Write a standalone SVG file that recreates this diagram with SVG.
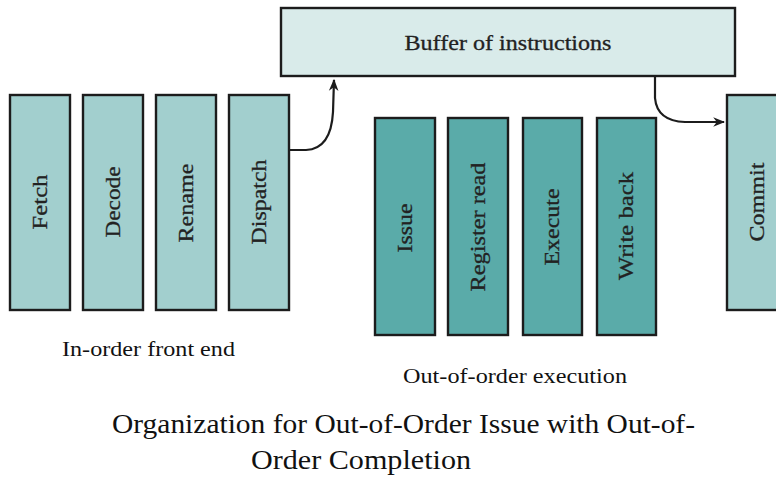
<svg xmlns="http://www.w3.org/2000/svg" width="776" height="479" viewBox="0 0 776 479" font-family="Liberation Serif, serif">
<style>
.fe{fill:#a2cfce;stroke:#1c1c1c;stroke-width:2.4}
.ex{fill:#5aaba9;stroke:#1c1c1c;stroke-width:2.4}
.buf{fill:#d9ebea;stroke:#1c1c1c;stroke-width:2.4}
.lbl{font-size:21px;fill:#222;text-anchor:middle;stroke:#222;stroke-width:0.3}
.cap{font-size:20px;fill:#111}
.title{font-size:27px;fill:#111}
.con{fill:none;stroke:#1c1c1c;stroke-width:2.2}
</style>
<defs>
<marker id="ah" viewBox="0 0 10 10" refX="9" refY="5" markerWidth="12" markerHeight="12" orient="auto" markerUnits="userSpaceOnUse">
<path d="M0,1 L10,5 L0,9 L3,5 z" fill="#1c1c1c"/>
</marker>
</defs>
<rect width="776" height="479" fill="#fff"/>

<g id="buffer">
<rect class="buf" x="281" y="8" width="454" height="68"/>
<text class="lbl" x="508" y="50" textLength="207" lengthAdjust="spacingAndGlyphs">Buffer of instructions</text>
</g>

<g id="fetch">
<rect class="fe" x="10" y="95" width="60" height="215"/>
<text class="lbl" transform="translate(40,202) rotate(-90)" x="0" y="7" textLength="55" lengthAdjust="spacingAndGlyphs">Fetch</text>
</g>
<g id="decode">
<rect class="fe" x="83" y="95" width="60" height="215"/>
<text class="lbl" transform="translate(113,202) rotate(-90)" x="0" y="7" textLength="71" lengthAdjust="spacingAndGlyphs">Decode</text>
</g>
<g id="rename">
<rect class="fe" x="156" y="95" width="60" height="215"/>
<text class="lbl" transform="translate(186,203) rotate(-90)" x="0" y="7" textLength="79" lengthAdjust="spacingAndGlyphs">Rename</text>
</g>
<g id="dispatch">
<rect class="fe" x="229" y="95" width="60" height="215"/>
<text class="lbl" transform="translate(259,202) rotate(-90)" x="0" y="7" textLength="85" lengthAdjust="spacingAndGlyphs">Dispatch</text>
</g>

<g id="issue">
<rect class="ex" x="375" y="118" width="60" height="217"/>
<text class="lbl" transform="translate(405,228) rotate(-90)" x="0" y="7" textLength="49" lengthAdjust="spacingAndGlyphs">Issue</text>
</g>
<g id="register-read">
<rect class="ex" x="448" y="118" width="60" height="217"/>
<text class="lbl" transform="translate(478,227) rotate(-90)" x="0" y="7" textLength="129" lengthAdjust="spacingAndGlyphs">Register read</text>
</g>
<g id="execute">
<rect class="ex" x="523" y="118" width="59" height="217"/>
<text class="lbl" transform="translate(552,227) rotate(-90)" x="0" y="7" textLength="77" lengthAdjust="spacingAndGlyphs">Execute</text>
</g>
<g id="write-back">
<rect class="ex" x="597" y="118" width="59" height="217"/>
<text class="lbl" transform="translate(626,226) rotate(-90)" x="0" y="7" textLength="108" lengthAdjust="spacingAndGlyphs">Write back</text>
</g>

<g id="commit">
<rect class="fe" x="727" y="95" width="60" height="215"/>
<text class="lbl" transform="translate(757,202) rotate(-90)" x="0" y="7" textLength="79" lengthAdjust="spacingAndGlyphs">Commit</text>
</g>

<g id="connectors">
<path class="con" d="M289,150 L306,150 Q331,149 333,112 L334,80" marker-end="url(#ah)"/>
<path class="con" d="M655,76 L655,98 Q657,121 685,122 L724,122" marker-end="url(#ah)"/>
</g>

<g id="labels">
<text class="cap" x="62" y="356" textLength="173" lengthAdjust="spacingAndGlyphs">In-order front end</text>
<text class="cap" x="403" y="383" textLength="224" lengthAdjust="spacingAndGlyphs">Out-of-order execution</text>
<text class="title" x="112" y="433" textLength="583" lengthAdjust="spacingAndGlyphs">Organization for Out-of-Order Issue with Out-of-</text>
<text class="title" x="251" y="469" textLength="220" lengthAdjust="spacingAndGlyphs">Order Completion</text>
</g>
</svg>
